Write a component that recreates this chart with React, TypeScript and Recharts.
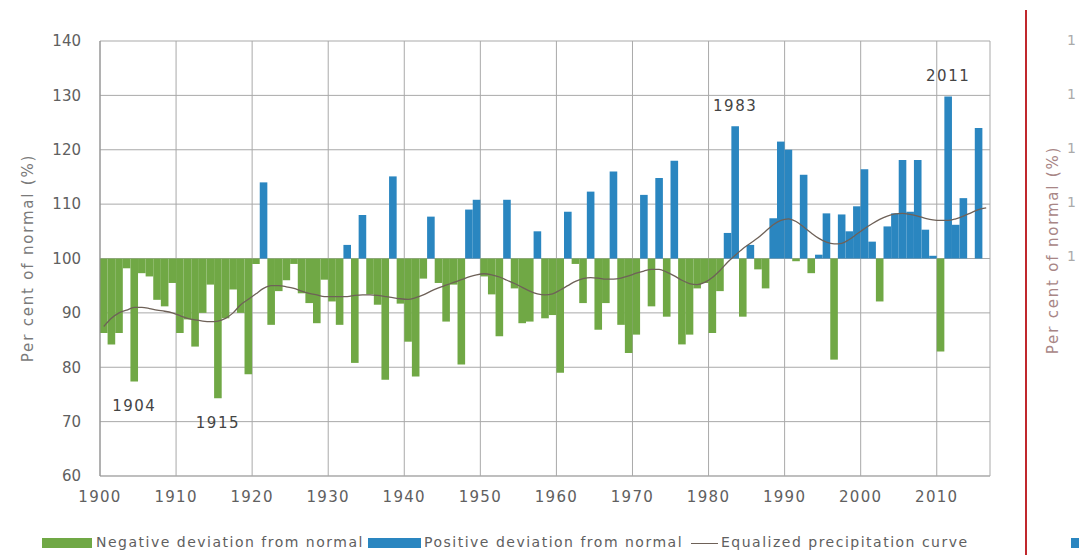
import {
  ComposedChart,
  Bar,
  Line,
  XAxis,
  YAxis,
  CartesianGrid,
  Cell,
  ReferenceDot,
} from "recharts";

const FONT = '"DejaVu Sans", sans-serif';
const GREEN = "#70a845";
const BLUE = "#2a86c0";
const TREND = "#6e6158";
const GRID = "#a9a9a9";
const TEXT = "#606060";

const FIRST_YEAR = 1900;

// annual precipitation, per cent of normal, 1900..2016
const precip: (number | null)[] = [
  86.3, 84.2, 86.3, 98.2, 77.4, 97.3, 96.7, 92.4, 91.2, 95.5, // 1900s
  86.3, 88.8, 83.8, 90.0, 95.2, 74.3, 89.0, 94.3, 90.0, 78.7, // 1910s
  99.0, 114.0, 87.8, 94.0, 96.0, 99.0, 93.6, 91.8, 88.1, 96.1, // 1920s
  92.1, 87.8, 102.5, 80.8, 108.0, 93.4, 91.5, 77.7, 115.1, 91.7, // 1930s
  84.7, 78.3, 96.3, 107.7, 95.5, 88.4, 95.2, 80.5, 109.0, 110.8, // 1940s
  96.7, 93.4, 85.7, 110.8, 94.5, 88.1, 88.4, 105.0, 89.0, 89.6, // 1950s
  79.0, 108.6, 99.0, 91.8, 112.3, 86.9, 91.8, 116.0, 87.8, 82.6, // 1960s
  86.0, 111.7, 91.2, 114.8, 89.3, 118.0, 84.2, 86.0, 94.5, 95.5, // 1970s
  86.3, 94.0, 104.7, 124.3, 89.3, 102.5, 98.0, 94.5, 107.4, 121.5, // 1980s
  120.0, 99.5, 115.4, 97.3, 100.7, 108.3, 81.4, 108.1, 105.0, 109.6, // 1990s
  116.4, 103.1, 92.1, 105.9, 108.3, 118.1, 108.6, 118.1, 105.3, 100.5, // 2000s
  82.9, 129.8, 106.2, 111.1, 100.0, 124.0, null, // 2010s
];

// equalized precipitation curve
const trend: number[] = [
  87.5, 89.0, 90.0, 90.5, 91.0, 91.0, 90.8, 90.5, 90.3, 90.0,
  89.5, 89.0, 88.7, 88.5, 88.4, 88.5, 89.0, 90.0, 91.5, 92.5,
  93.5, 94.5, 95.0, 95.0, 94.8, 94.5, 94.0, 93.6, 93.3, 93.0,
  93.0, 93.0, 93.0, 93.2, 93.3, 93.3, 93.2, 93.0, 92.8, 92.6,
  92.5, 92.8, 93.3, 94.0, 94.6, 95.1, 95.6, 96.1, 96.6, 97.0,
  97.2, 97.0, 96.6, 96.0, 95.4, 94.7, 94.0, 93.5, 93.3, 93.5,
  94.2, 95.0, 95.8, 96.3, 96.5, 96.4, 96.2, 96.2, 96.4, 96.8,
  97.3, 97.7, 98.0, 98.0, 97.5, 96.8, 96.0, 95.4, 95.2, 95.6,
  96.5, 97.8, 99.3, 100.6, 101.8, 102.8, 103.8, 105.0, 106.2, 107.0,
  107.3, 106.8, 105.8, 104.7, 103.7, 103.0, 102.7, 102.8, 103.5, 104.5,
  105.5, 106.4, 107.2, 107.8, 108.2, 108.3, 108.1, 107.8, 107.4, 107.1,
  107.0, 107.0, 107.3, 107.8, 108.4, 109.0, 109.3,
];

const yearTicks = [1900, 1910, 1920, 1930, 1940, 1950, 1960, 1970, 1980, 1990, 2000, 2010];
const percentTicks = [60, 70, 80, 90, 100, 110, 120, 130, 140];
// only the first digit of the neighbouring chart's ticks is visible
const rightTicks = ["1", "1", "1", "1", "1"];

const annotations: { year: number; side: "top" | "bottom" }[] = [
  { year: 1904, side: "bottom" },
  { year: 1915, side: "bottom" },
  { year: 1983, side: "top" },
  { year: 2011, side: "top" },
];

const data = precip.map((v, i) => ({
  x: FIRST_YEAR + i + 0.5,
  value: v,
  range: v == null ? null : v < 100 ? [v, 100] : [100, v],
  trend: trend[i],
}));

function LegendItems() {
  const text = { fontFamily: FONT, fontSize: 14, letterSpacing: 1.5, color: TEXT, whiteSpace: "nowrap" as const };
  return (
    <>
      <div style={{ position: "absolute", left: 42, top: 538, width: 50, height: 10, background: GREEN }} />
      <div style={{ ...text, position: "absolute", left: 96, top: 534 }}>Negative deviation from normal</div>
      <div style={{ position: "absolute", left: 368, top: 538, width: 53, height: 10, background: BLUE }} />
      <div style={{ ...text, position: "absolute", left: 424, top: 534 }}>Positive deviation from normal</div>
      <div style={{ position: "absolute", left: 691, top: 543, width: 27, height: 1.3, background: TREND }} />
      <div style={{ ...text, position: "absolute", left: 721, top: 534 }}>Equalized precipitation curve</div>
    </>
  );
}

export default function App() {
  return (
    <div
      style={{
        position: "absolute",
        left: 0,
        top: 0,
        width: 1079,
        height: 555,
        overflow: "hidden",
        background: "#fff",
      }}
    >
      <ComposedChart
        width={1079}
        height={555}
        data={data}
        margin={{ top: 41, right: 89, bottom: 49, left: 40 }}
      >
        <CartesianGrid stroke={GRID} />
        <XAxis
          type="number"
          dataKey="x"
          domain={[1900, 2017]}
          ticks={yearTicks}
          height={30}
          tick={{ fill: TEXT, fontSize: 15, fontFamily: FONT, letterSpacing: 1.3 }}
          tickLine={false}
          tickMargin={9}
          axisLine={{ stroke: GRID }}
        />
        <YAxis
          type="number"
          domain={[60, 140]}
          ticks={percentTicks}
          width={60}
          tick={{ fill: TEXT, fontSize: 15, fontFamily: FONT }}
          tickLine={false}
          tickMargin={13}
          axisLine={{ stroke: "#8e8e8e" }}
        />
        <Bar dataKey="range" barSize={7.6} isAnimationActive={false}>
          {data.map((d, i) => (
            <Cell key={i} fill={d.value != null && d.value >= 100 ? BLUE : GREEN} />
          ))}
        </Bar>
        <Line
          dataKey="trend"
          type="monotone"
          dot={false}
          stroke={TREND}
          strokeWidth={1.3}
          isAnimationActive={false}
        />
        {annotations.map((a) => (
          <ReferenceDot
            key={a.year}
            x={a.year + 0.5}
            y={precip[a.year - FIRST_YEAR] as number}
            r={0}
            fill="none"
            stroke="none"
            label={{
              value: String(a.year),
              position: a.side,
              offset: a.side === "bottom" ? 19 : 15,
              fill: "#444",
              fontSize: 15,
              fontFamily: FONT,
              letterSpacing: 1.5,
            }}
          />
        ))}
      </ComposedChart>

      <div
        style={{
          position: "absolute",
          left: 28,
          top: 258,
          transform: "translate(-50%, -50%) rotate(-90deg)",
          fontFamily: FONT,
          fontSize: 15,
          letterSpacing: 1.8,
          color: "#7a7a7a",
          whiteSpace: "nowrap",
        }}
      >
        Per cent of normal (%)
      </div>

      <LegendItems />

      {/* edge of the neighbouring chart */}
      <div style={{ position: "absolute", left: 1025, top: 10, width: 1.5, height: 545, background: "#c0282d" }} />
      <div
        style={{
          position: "absolute",
          left: 1053,
          top: 250,
          transform: "translate(-50%, -50%) rotate(-90deg)",
          fontFamily: FONT,
          fontSize: 15,
          letterSpacing: 1.8,
          color: "#a88686",
          whiteSpace: "nowrap",
        }}
      >
        Per cent of normal (%)
      </div>
      {rightTicks.map((t, i) => (
        <div
          key={i}
          style={{
            position: "absolute",
            left: 1067,
            top: 32 + i * 54,
            fontFamily: FONT,
            fontSize: 14,
            color: "#aaa",
          }}
        >
          {t}
        </div>
      ))}
      <div style={{ position: "absolute", left: 1071, top: 538, width: 10, height: 10, background: BLUE }} />
    </div>
  );
}
